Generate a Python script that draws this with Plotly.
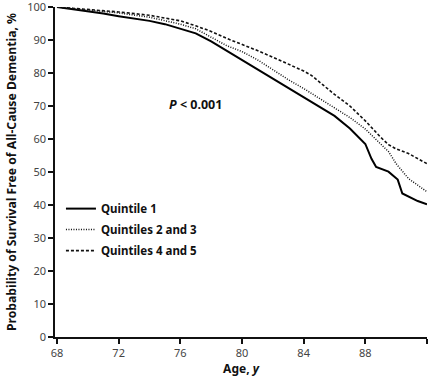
import plotly.graph_objects as go

# Quintile 1 (solid)
q1_age = [68, 69, 70, 71, 72, 73, 74, 75, 76, 77, 78, 79, 80, 81, 82, 83, 84, 85, 86, 87, 88, 88.4, 88.7, 89.5, 90.1, 90.4, 91.4, 92]
q1_val = [100, 99.4, 98.7, 98.0, 97.2, 96.6, 95.8, 94.8, 93.5, 92.0, 89.6, 86.8, 83.8, 81.0, 78.2, 75.4, 72.6, 70.0, 67.0, 63.2, 58.5, 54.0, 51.5, 50.1, 47.7, 43.5, 41.2, 40.2]

# Quintiles 2 and 3 (dotted)
q23_age = [68, 70, 72, 74, 76, 77, 78, 79, 80, 81, 82, 83, 84, 85, 86, 87, 88, 89, 89.5, 90, 90.8, 92]
q23_val = [100, 99.1, 98.2, 96.9, 94.8, 93.4, 90.9, 88.3, 86.5, 84.0, 81.0, 78.0, 75.3, 72.3, 69.3, 66.5, 63.0, 58.5, 56.2, 52.5, 48.0, 44.0]

# Quintiles 4 and 5 (dashed)
q45_age = [68, 70, 72, 74, 76, 77, 78, 79, 80, 81, 82, 83, 84, 84.5, 85, 86, 87, 87.6, 88, 89, 89.5, 90, 90.8, 92]
q45_val = [100, 99.3, 98.5, 97.5, 95.8, 94.3, 92.6, 90.5, 88.7, 86.8, 84.8, 82.8, 80.6, 79.3, 77.3, 73.5, 70.0, 67.3, 65.5, 60.5, 58.3, 57.0, 55.6, 52.5]

x_ticks = [68, 72, 76, 80, 84, 88, 92]
y_ticks = [0, 10, 20, 30, 40, 50, 60, 70, 80, 90, 100]

fig = go.Figure()
fig.add_trace(go.Scatter(x=q1_age, y=q1_val, mode="lines", name="Quintile 1", legendgroup="a",
                         line=dict(color="#000", width=2), cliponaxis=False))
fig.add_trace(go.Scatter(x=q23_age, y=q23_val, mode="lines", name="Quintiles 2 and 3", legendgroup="b",
                         line=dict(color="#111", width=1.5, dash="1px,1.5px"), cliponaxis=False))
fig.add_trace(go.Scatter(x=q45_age, y=q45_val, mode="lines", name="Quintiles 4 and 5", legendgroup="c",
                         line=dict(color="#111", width=1.6, dash="3px,2px"), cliponaxis=False))

fig.add_annotation(x=77, y=70.5, xref="x", yref="y", showarrow=False,
                   text="<b><i>P</i> &lt; 0.001</b>",
                   font=dict(family="Noto Sans", size=12.5, color="#111"))

fig.update_layout(
    width=433, height=385,
    margin=dict(l=55, r=6, t=7, b=48),
    plot_bgcolor="white", paper_bgcolor="white",
    font=dict(family="Noto Sans", size=11, color="#444"),
    showlegend=True,
    legend=dict(x=0.016, y=0.433, xanchor="left", yanchor="top",
                bgcolor="rgba(0,0,0,0)", itemwidth=30, tracegroupgap=2,
                font=dict(family="Noto Sans", size=11.5, color="#111", weight="bold")),
    xaxis=dict(range=[67.87, 92], tickvals=x_ticks, ticktext=[str(v) for v in x_ticks],
               automargin=False,
               showgrid=False, zeroline=False, showline=True, linecolor="#111", linewidth=1.5,
               ticks="outside", ticklen=5, tickcolor="#111", tickwidth=1.5,
               tickfont=dict(size=11, color="#444"),
               title=dict(text="<b>Age, <i>y</i></b>", font=dict(size=12, color="#111"), standoff=0)),
    yaxis=dict(range=[0, 100], tickvals=y_ticks, ticktext=[str(v) for v in y_ticks],
               automargin=False, ticklabeloverflow="allow",
               showgrid=False, zeroline=False, showline=True, linecolor="#111", linewidth=1.5,
               ticks="outside", ticklen=5, tickcolor="#111", tickwidth=1.5,
               tickfont=dict(size=11, color="#444"),
               title=dict(text="<b>Probability of Survival Free of All-Cause Dementia, %</b>",
                          font=dict(size=12.2, color="#111"), standoff=8)),
)

fig.write_html("out.html", config={"displayModeBar": False},
               post_script="document.body.style.margin='0';")
